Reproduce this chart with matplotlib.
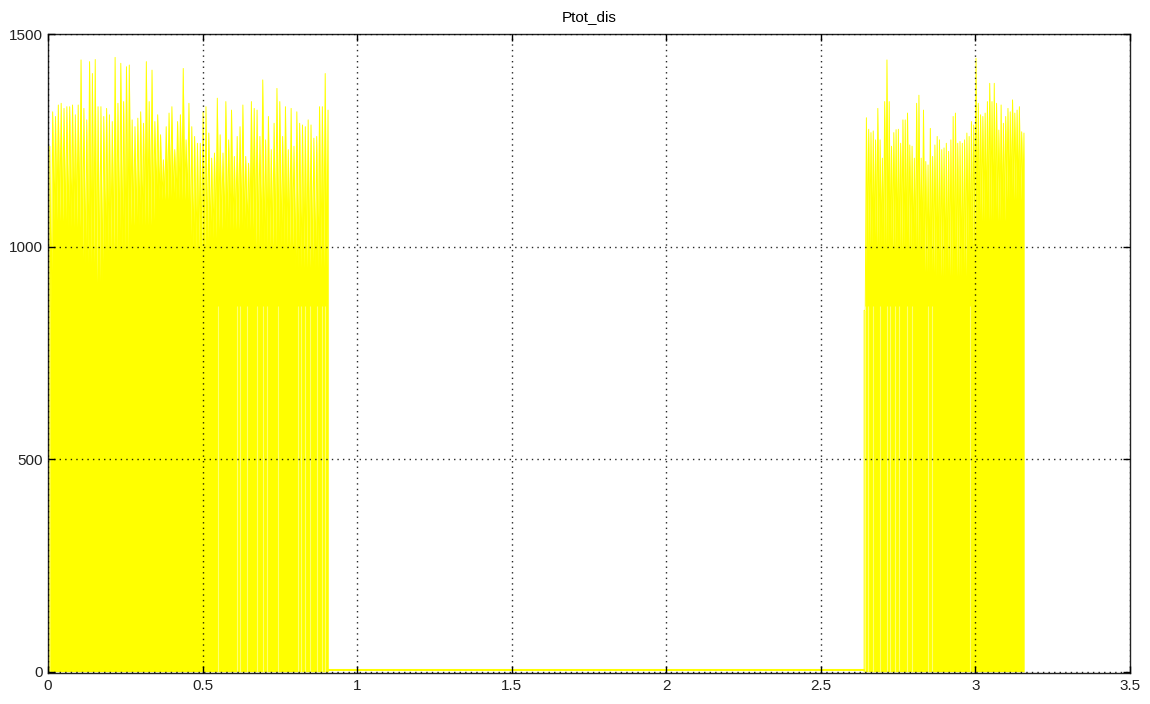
import matplotlib
matplotlib.use("Agg")
import matplotlib.pyplot as plt
import numpy as np

# tall spikes of each burst, read left to right off the scope trace
burst1_peaks = [1236, 1317, 1306, 1333, 1337, 1325, 1329, 1329, 1333, 1310, 1333, 1439,
                1325, 1298, 1435, 1407, 1440, 1329, 1329, 1306, 1325, 1310, 1294, 1445,
                1337, 1431, 1341, 1423, 1427, 1298, 1282, 1302, 1317, 1290, 1435, 1341,
                1415, 1294, 1310,
                1263, 1204, 1282, 1314, 1329, 1228, 1294, 1310, 1419, 1251, 1337, 1282,
                1259, 1243, 1243, 1317, 1329, 1267, 1208, 1220, 1349, 1263, 1220, 1341,
                1251, 1321, 1212, 1259, 1282, 1333, 1212, 1196, 1341, 1325, 1321, 1259,
                1392, 1251, 1306, 1228, 1290, 1372, 1341, 1259, 1329, 1228, 1325, 1236,
                1317, 1290, 1286, 1282, 1298, 1286, 1255, 1259, 1329, 1329, 1407, 1321]
burst2_peaks = [850, 1303, 1276, 1268, 1272, 1251, 1325, 1251, 1208, 1341, 1439, 1341,
                1236, 1268, 1275, 1276, 1243, 1298, 1298, 1314, 1239, 1236, 1208, 1337,
                1356, 1208, 1321, 1200, 1192, 1278, 1212, 1239, 1259, 1251, 1228, 1232,
                1243, 1224, 1251, 1306, 1314, 1243, 1247, 1243, 1251, 1267, 1259, 1294,
                1286, 1443, 1337, 1310, 1306, 1314, 1341, 1384, 1341, 1384, 1337, 1274,
                1333, 1290, 1306, 1325, 1317, 1345, 1314, 1321, 1329, 1270, 1267]
burst1_span = (0.006, 0.906)
burst2_span = (2.640, 3.157)

# level between spikes, below which the bursts look solid (time edges / levels)
solid1_edges = [0.0, 0.013, 0.055, 0.110, 0.152, 0.184, 0.265, 0.346, 0.459, 0.518,
                0.550, 0.670, 0.800, 0.906]
solid1_level = [850, 1060, 1045, 960, 915, 990, 1050, 1110, 990, 1020, 1040, 1000, 950]
solid2_edges = [2.640, 2.650, 2.720, 2.830, 2.870, 2.970, 3.000, 3.100, 3.157]
solid2_level = [850, 1000, 990, 940, 930, 1000, 1060, 1110]

# thin drop-outs to zero that show as pale stripes
gaps_t = [0.551, 0.613, 0.622, 0.645, 0.677, 0.694, 0.708, 0.745, 0.809, 0.820, 0.832,
          0.848, 0.870, 0.887, 0.897,
          2.643, 2.653, 2.669, 2.692, 2.714, 2.724, 2.740, 2.753, 2.779, 2.795, 2.847,
          2.860, 2.983]
idle_t = [0.906, 2.640]
idle_v = [3, 3]


def burst(peaks, span, edges, levels):
    tp = np.linspace(span[0], span[1], len(peaks))
    tm = tp + (tp[1] - tp[0]) / 2
    tm[-1] = tp[-1]
    idx = np.clip(np.searchsorted(edges, tm, side='right') - 1, 0, len(levels) - 1)
    t = np.empty(2 * len(peaks))
    v = np.empty(2 * len(peaks))
    t[0::2], t[1::2] = tp, tm
    v[0::2], v[1::2] = peaks, np.asarray(levels)[idx]
    v[-1] = 0
    return np.r_[tp[0], t], np.r_[0, v]


plt.rcParams['font.family'] = ['Liberation Sans', 'DejaVu Sans']
fig = plt.figure(figsize=(11.5, 7.04), dpi=100)
ax = fig.add_axes([0.0417, 0.044, 0.9409, 0.9077])

yellow = '#ffff00'
for pk, sp, ed, lv in [(burst1_peaks, burst1_span, solid1_edges, solid1_level),
                       (burst2_peaks, burst2_span, solid2_edges, solid2_level)]:
    t, v = burst(pk, sp, ed, lv)
    ax.fill_between(t, 0, v, color=yellow, lw=0, zorder=2)
    ax.plot(t, v, color=yellow, lw=0.7, zorder=2)
ax.vlines(gaps_t, 0, 860, color='white', lw=0.8, alpha=0.45, zorder=2.5)
ax.plot(idle_t, idle_v, color=yellow, lw=1.5, zorder=2)

ax.set_xlim(0, 3.5)
ax.set_ylim(-3, 1500)
ax.set_xticks(np.arange(0, 3.51, 0.5))
ax.set_xticklabels(['0', '0.5', '1', '1.5', '2', '2.5', '3', '3.5'])
ax.set_yticks([0, 500, 1000, 1500])
ax.tick_params(direction='in', length=5, width=1, top=True, right=True,
               labelsize=11, labelcolor='#222222', pad=4)
ax.grid(True, color='black', linestyle=(0, (1, 3)), linewidth=1, alpha=0.85)
ax.set_axisbelow(False)
for s in ax.spines.values():
    s.set_linewidth(1)
    s.set_color('#222222')

ax.set_title('Ptot_dis', fontsize=11, pad=9)

fig.savefig('out.png', dpi=100, facecolor='white')
